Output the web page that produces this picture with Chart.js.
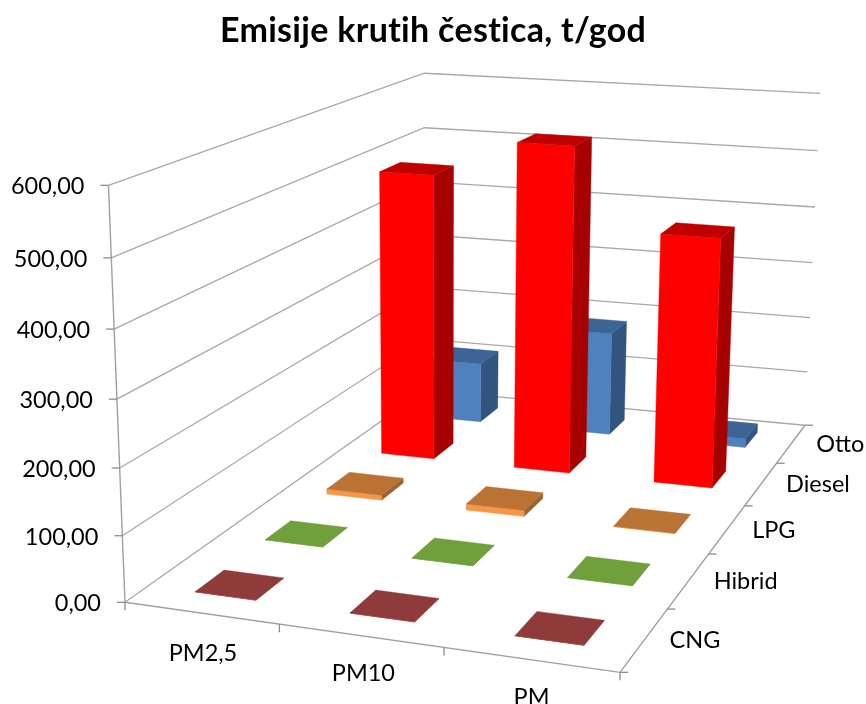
<!DOCTYPE html>
<html>
<head>
<meta charset="utf-8">
<script src="https://cdn.jsdelivr.net/npm/chart.js@4"></script>
<style>html,body{margin:0;padding:0;background:#fff}canvas{display:block}</style>
</head>
<body>
<canvas id="c" width="866" height="704"></canvas>
<script>
const titleText = 'Emisije krutih čestica, t/god';
const categories = ['PM2,5', 'PM10', 'PM'];
const seriesNames = ['CNG', 'Hibrid', 'LPG', 'Diesel', 'Otto'];
const cngValues = [0.4, 0.4, 0.4];
const hibridValues = [0.3, 0.3, 0.3];
const lpgValues = [8.5, 10, 0.8];
const dieselValues = [491, 554, 420];
const ottoValues = [108, 184, 16];
const valueTicks = [0, 100, 200, 300, 400, 500, 600];
const tickLabels = ['0,00', '100,00', '200,00', '300,00', '400,00', '500,00', '600,00'];
const valueMax = 600;

const seriesValues = [cngValues, hibridValues, lpgValues, dieselValues, ottoValues];
const seriesColors = [
  {front: '#953735', side: '#7A2D2B', top: '#8E3B3A'},
  {front: '#77933C', side: '#5F7A2E', top: '#70A03C'},
  {front: '#F79646', side: '#9E632D', top: '#BA7335'},
  {front: '#FF0000', side: '#A60000', top: '#C00000'},
  {front: '#4F81BD', side: '#325580', top: '#3C6494'}
];
const barFraction = 0.4;
const barShift = 0.004;
const gridColor = '#A8A8A8';
const axisColor = '#A0A0A0';
const tickColor = '#8C8C8C';

// perspective camera of the 3-D box (u: categories, v: depth, h: value share)
function project(u, v, h) {
  const w = 1 - 0.09338 * u + 0.34103 * v - 0.05 * h;
  const dx = -22;
  const dy = -426.25 - 2.5 * v + 10 * u;
  return {
    x: (125 + 437.1 * u + 442.26 * v + 2.5 * v * (1 - u) + dx * h) / w,
    y: (602.3 + 7.25 * u - 79 * v + dy * h) / w
  };
}
const byValue = val => val / valueMax;

const datasets = [];
function addLine(points, color, width) {
  datasets.push({data: points, showLine: true, borderColor: color, borderWidth: width,
    pointRadius: 0, tension: 0, fill: false, clip: false});
}
function addFace(points, color) {
  datasets.push({data: points, showLine: true, polygon: true, backgroundColor: color,
    borderColor: color, borderWidth: 0, pointRadius: 0, tension: 0, fill: false, clip: false});
}
function shift(p, ox, oy) { return {x: p.x + ox, y: p.y + oy}; }

// walls
valueTicks.forEach(t => {
  const h = byValue(t);
  addLine([project(0, 0, h), project(0, 1, h), project(1, 1, h)], gridColor, 1.3);
});
// axes
addLine([project(0, 0, 0), project(0, 0, 1)], axisColor, 1.4);
addLine([project(0, 0, 0), project(1, 0, 0)], axisColor, 1.4);
addLine([project(1, 0, 0), project(1, 1, 0)], axisColor, 1.4);
// ticks
valueTicks.forEach(t => {
  const p = project(0, 0, byValue(t));
  addLine([p, shift(p, -8, 0)], tickColor, 1.3);
});
categories.concat(['']).forEach((_, i) => {
  const p = project(i / categories.length, 0, 0);
  addLine([p, shift(p, 0, 8)], tickColor, 1.3);
});
seriesNames.concat(['']).forEach((_, i) => {
  const p = project(1, i / seriesNames.length, 0);
  addLine([p, shift(p, 8, 0)], tickColor, 1.3);
});
// bars, back row first
for (let s = seriesNames.length - 1; s >= 0; s--) {
  seriesValues[s].forEach((val, c) => {
    const du = 1 / categories.length, dv = 1 / seriesNames.length;
    const u0 = (c + 0.5 - barFraction / 2) * du + barShift, u1 = (c + 0.5 + barFraction / 2) * du + barShift;
    const v0 = (s + 0.5 - barFraction / 2) * dv, v1 = (s + 0.5 + barFraction / 2) * dv;
    const h = byValue(val);
    const col = seriesColors[s];
    addFace([project(u1, v0, 0), project(u1, v1, 0), project(u1, v1, h), project(u1, v0, h)], col.side);
    addFace([project(u0, v0, 0), project(u1, v0, 0), project(u1, v0, h), project(u0, v0, h)], col.front);
    addFace([project(u0, v0, h), project(u1, v0, h), project(u1, v1, h), project(u0, v1, h)], col.top);
  });
}
datasets.forEach((d, i) => { d.order = datasets.length - i; });

const categoryLabelOffsets = [{x: 2, y: 40}, {x: 3, y: 38}, {x: 1, y: 38}];
const polygonPlugin = {
  id: 'polygonFaces',
  beforeDraw(chart) {
    chart.ctx.letterSpacing = '0.3px';
  },
  beforeDatasetDraw(chart, args) {
    const ds = chart.data.datasets[args.index];
    if (!ds.polygon) return;
    const pts = chart.getDatasetMeta(args.index).data;
    const ctx = chart.ctx;
    ctx.save();
    ctx.beginPath();
    pts.forEach((p, i) => i ? ctx.lineTo(p.x, p.y) : ctx.moveTo(p.x, p.y));
    ctx.closePath();
    ctx.fillStyle = ds.backgroundColor;
    ctx.fill();
    ctx.lineWidth = 0.4;
    ctx.strokeStyle = ds.backgroundColor;
    ctx.stroke();
    ctx.restore();
    return false;
  },
  afterDraw(chart) {
    const ctx = chart.ctx;
    const sx = chart.scales.x, sy = chart.scales.y;
    const at = p => ({x: sx.getPixelForValue(p.x), y: sy.getPixelForValue(p.y)});
    ctx.save();
    ctx.letterSpacing = '0px';
    ctx.fillStyle = '#000';
    ctx.font = '23.5px Lato';
    ctx.textBaseline = 'middle';
    ctx.textAlign = 'right';
    valueTicks.forEach((t, i) => {
      const p = at(project(0, 0, byValue(t)));
      ctx.fillText(tickLabels[i], p.x - 24, p.y + 1.5);
    });
    ctx.textAlign = 'center';
    categories.forEach((name, i) => {
      const p = at(project((i + 0.5) / categories.length, 0, 0));
      ctx.fillText(name, p.x + categoryLabelOffsets[i].x, p.y + categoryLabelOffsets[i].y);
    });
    ctx.textAlign = 'left';
    seriesNames.forEach((name, i) => {
      const p = at(project(1, (i + 0.5) / seriesNames.length, 0));
      ctx.fillText(name, p.x + 25, p.y + 1);
    });
    ctx.restore();
  }
};

new Chart(document.getElementById('c'), {
  type: 'scatter',
  data: {datasets},
  plugins: [polygonPlugin],
  options: {
    responsive: false,
    animation: false,
    events: [],
    layout: {padding: 0},
    plugins: {
      legend: {display: false},
      tooltip: {enabled: false},
      title: {
        display: true,
        text: titleText,
        color: '#000',
        font: {family: 'Lato', size: 34, weight: 'bold', lineHeight: 40 / 34},
        padding: {top: 11, bottom: 9}
      }
    },
    scales: {
      x: {type: 'linear', display: false, min: 0, max: 866},
      y: {type: 'linear', display: false, min: 60, max: 704, reverse: true}
    }
  }
});
</script>
</body>
</html>
